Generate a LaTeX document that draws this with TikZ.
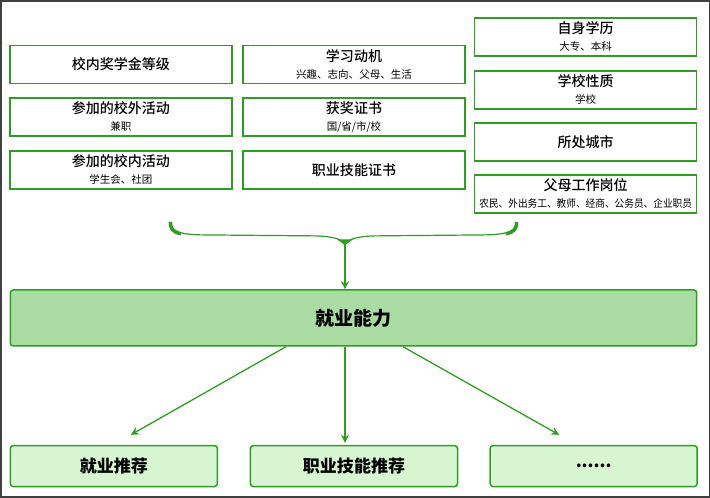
\documentclass[tikz,border=0pt]{standalone}
\usepackage{fontspec}
\newfontfamily\cjk{Noto Sans CJK SC}[BoldFont={Noto Sans CJK SC Medium}]
\newfontfamily\cjkheavy{Noto Sans CJK SC}
\usetikzlibrary{arrows.meta}
\definecolor{cLine}{HTML}{2E9E22}
\definecolor{cCore}{HTML}{A9DBA3}
\definecolor{cOut}{HTML}{D6F5D0}
\definecolor{cFrame}{HTML}{404040}
\newcommand{\subtxt}[1]{{\mdseries\fontsize{10.5}{12}\selectfont #1}}

\begin{document}
\begin{tikzpicture}[>={Stealth[length=8pt,width=8pt]},x=1pt,y=-1pt,
   factor/.style={draw=cLine,line width=1.5pt,fill=white,minimum width=222pt,
     minimum height=38pt,inner sep=0pt,align=center,
     font=\cjk\bfseries\fontsize{14}{17}\selectfont},
   core/.style={draw=cLine,line width=1.5pt,fill=cCore,rounded corners=3pt,
     minimum width=686pt,minimum height=56pt,font=\cjkheavy\bfseries\fontsize{19}{21}\selectfont},
   result/.style={draw=cLine,line width=1.5pt,fill=cOut,rounded corners=3pt,
     minimum width=207pt,minimum height=41pt,font=\cjkheavy\bfseries\fontsize{17}{19}\selectfont},
   flow/.style={->,cLine,line width=1.3pt}]
  % frame
  \draw[cFrame,line width=1.5pt] (1,1) rectangle (709,497);
  % left column
  \node[factor] (fScholar) at (121,64.5) {校内奖学金等级};
  \node[factor] (fOutside) at (121,117) {参加的校外活动\\\subtxt{兼职}};
  \node[factor] (fInside) at (121,170) {参加的校内活动\\\subtxt{学生会、社团}};
  % middle column
  \node[factor] (fMotive) at (354,64.5) {学习动机\\\subtxt{兴趣、志向、父母、生活}};
  \node[factor] (fAward) at (354,117) {获奖证书\\\subtxt{国/省/市/校}};
  \node[factor] (fSkillCert) at (354,170) {职业技能证书};
  % right column
  \node[factor] (fDegree) at (585.5,37) {自身学历\\\subtxt{大专、本科}};
  \node[factor] (fSchool) at (585.5,90) {学校性质\\\subtxt{学校}};
  \node[factor] (fCity) at (585.5,142) {所处城市};
  \node[factor] (fParent) at (585.5,194) {父母工作岗位\\\subtxt{\scalebox{0.92}[1]{农民、外出务工、教师、经商、公务员、企业职员}}};
  % brace
  \coordinate (bL) at (170,222);
  \coordinate (bR) at (517,222);
  \coordinate (tip) at (345,245);
  \draw[cLine,line width=1.2pt] (bL) .. controls (170,231) and (180,235) .. (205,235)
     -- (318,236) .. controls (334,237) and (342,239) .. (tip)
     .. controls (348,239) and (356,237) .. (372,236)
     -- (482,235) .. controls (507,235) and (517,231) .. (bR);
  \draw[cLine,line width=3.5pt] (170.5,222) .. controls (170.5,229) and (173,232) .. (181,234);
  \draw[cLine,line width=3.5pt] (516.5,222) .. controls (516.5,229) and (514,232) .. (506,234);
  \fill[cLine] (337,239.5) -- (353,239.5) -- (tip) -- cycle;
  % core and results
  \node[core] (ability) at (353.5,318) {就业能力};
  \node[result] (oJob) at (114,466) {就业推荐};
  \node[result] (oSkill) at (354,466) {职业技能推荐};
  \node[result] (oMore) at (593.5,466) {......};
  \draw[flow] (tip) -- ([xshift=-8.5pt]ability.north);
  \draw[flow] ([xshift=-67.5pt]ability.south) -- ([xshift=17pt,yshift=10pt]oJob.north);
  \draw[flow] ([xshift=-8.5pt]ability.south) -- ([xshift=-9pt,yshift=2pt]oSkill.north);
  \draw[flow] ([xshift=49.5pt]ability.south) -- ([xshift=-34.5pt,yshift=10pt]oMore.north);
\end{tikzpicture}
\end{document}
